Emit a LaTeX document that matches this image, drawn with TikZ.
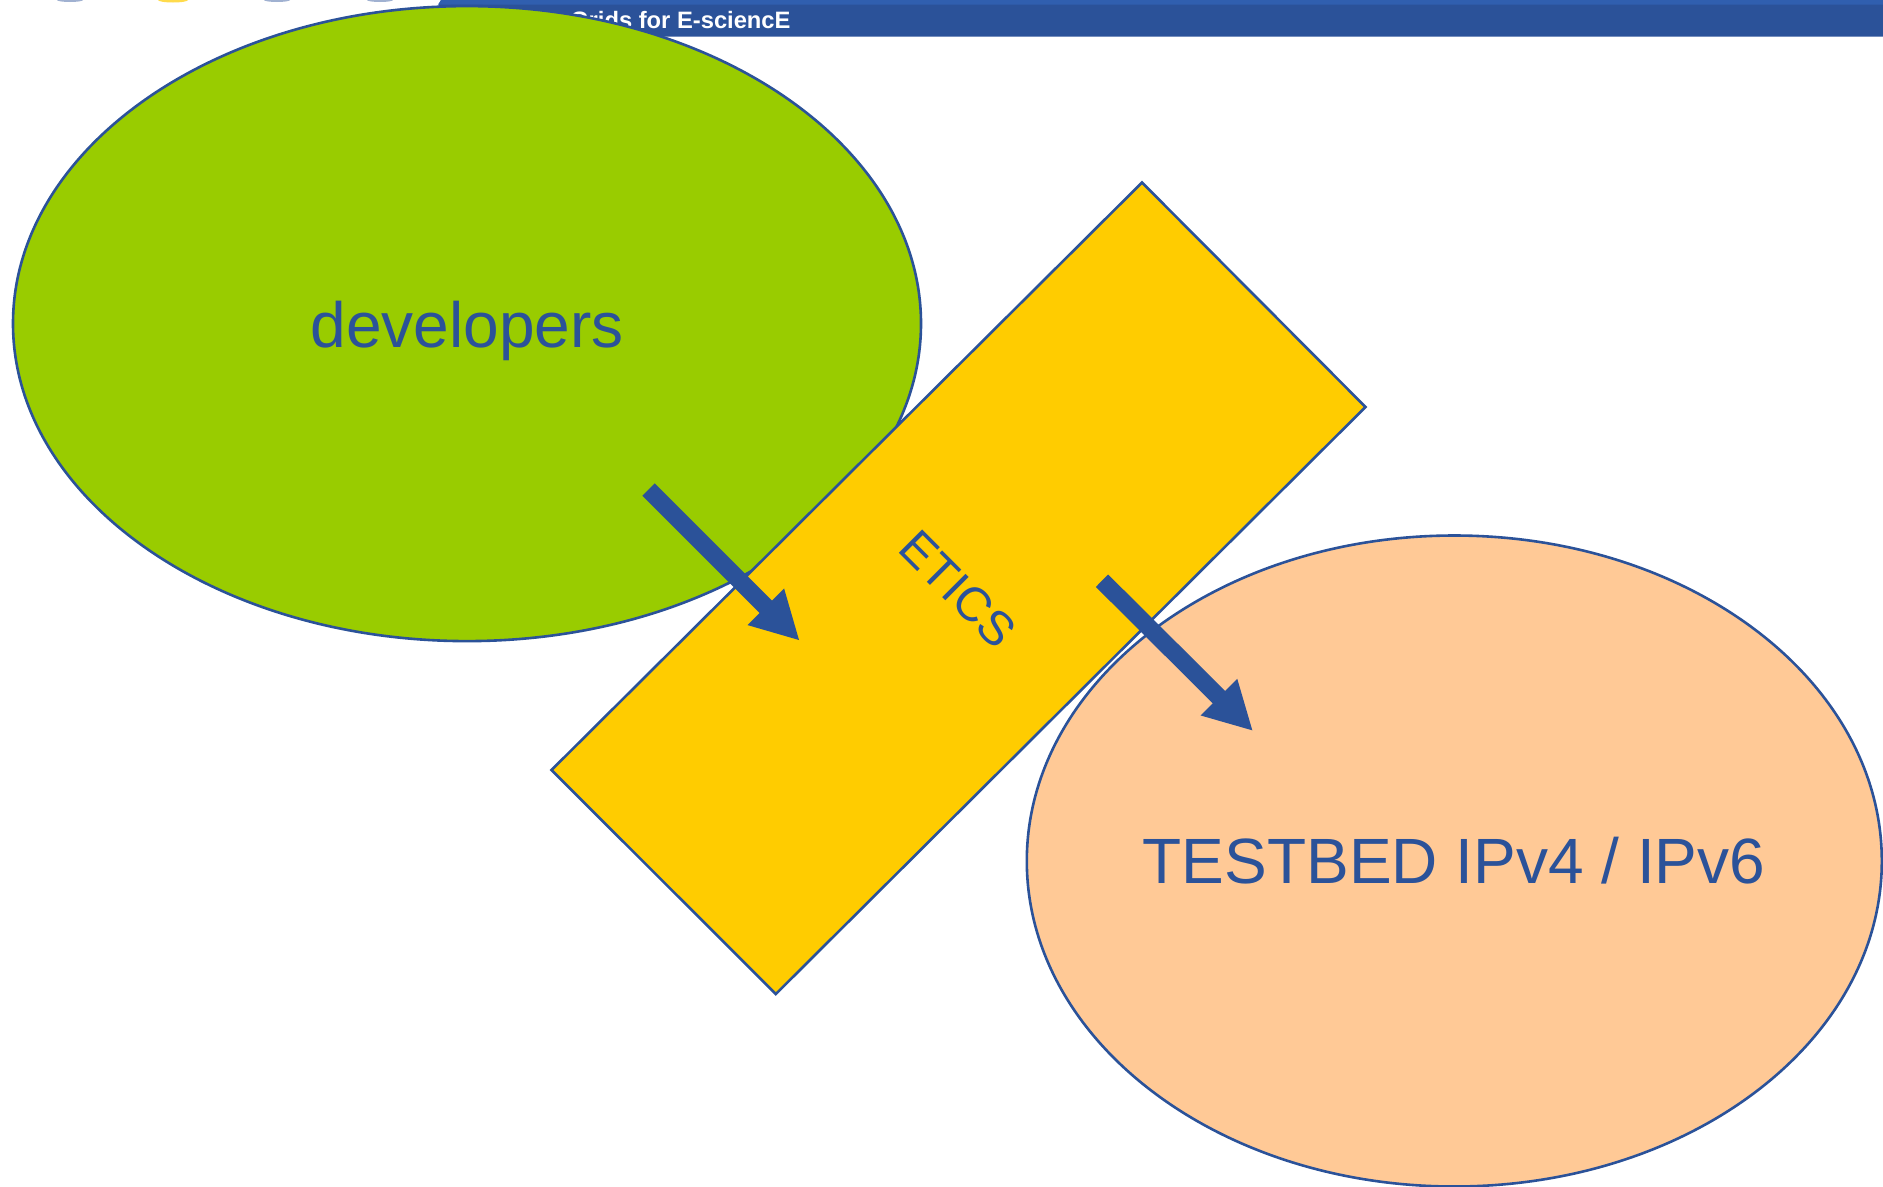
\documentclass[tikz,border=0pt]{standalone}
\usepackage{fontspec}
\setmainfont{Liberation Sans}
\usetikzlibrary{shapes.geometric,arrows.meta}
\definecolor{navy}{HTML}{2B5299}
\definecolor{barlight}{HTML}{305FAF}
\definecolor{leaf}{HTML}{99CC00}
\definecolor{gold}{HTML}{FFCC00}
\definecolor{peach}{HTML}{FFC996}
\tikzset{
  x=0.75pt,y=-0.75pt,
  blob/.style={ellipse,draw=navy,line width=2.6*0.75pt,inner sep=0pt,outer sep=0pt,text=navy},
  flow/.style={draw=navy,line width=17.5*0.75pt,-{Triangle[length=48*0.75pt,width=48*0.75pt]}},
  lbl/.style={text=navy,inner sep=0pt},
}
\begin{document}
\begin{tikzpicture}
\useasboundingbox (0,0) rectangle (1883,1186);
% header remnants
\fill[navy] (441,0) -- (1883,0) -- (1883,36.5) -- (425,36.5) -- cycle;
\fill[barlight] (441,0) -- (1883,0) -- (1883,4.5) -- (438,4.5) -- cycle;
\node[anchor=west,text=white,inner sep=0pt,font=\bfseries\fontsize{17.8}{20}\selectfont] (title) at (570,20.5) {Grids for E-sciencE};
\fill[navy!45] (70,0) ellipse (13 and 2);
\fill[gold!70] (173,0) ellipse (15 and 2.5);
\fill[navy!45] (277,0) ellipse (13 and 2);
\fill[navy!45] (380,0) ellipse (13 and 2);
% ellipses
\node[blob,fill=leaf,minimum width=908*0.75pt,minimum height=635*0.75pt] (dev) at (467,323.6) {};
\node[blob,fill=peach,minimum width=855*0.75pt,minimum height=651*0.75pt] (test) at (1454.3,861) {};
% band
\coordinate (r1) at (1142,182.5);
\coordinate (r2) at (1365.5,407);
\coordinate (r3) at (775.8,994);
\coordinate (r4) at (551.5,770);
\draw[draw=navy,fill=gold,line width=2.6*0.75pt,line join=miter] (r1) -- (r2) -- (r3) -- (r4) -- cycle;
\node[lbl,rotate=-45,font=\fontsize{36}{43}\selectfont] (etics) at (958,589) {ETICS};
\node[lbl,font=\fontsize{48}{56}\selectfont] (devl) at (467,331) {developers};
\node[lbl,font=\fontsize{48}{56}\selectfont] (testl) at (1454,861) {TESTBED IPv4 / IPv6};
% arrows
\coordinate (a1) at (648.6,489.5);
\coordinate (a2) at (799.7,640.7);
\coordinate (b1) at (1102,580.7);
\coordinate (b2) at (1253,731);
\draw[flow] (a1) -- (a2);
\draw[flow] (b1) -- (b2);
\end{tikzpicture}
\end{document}
